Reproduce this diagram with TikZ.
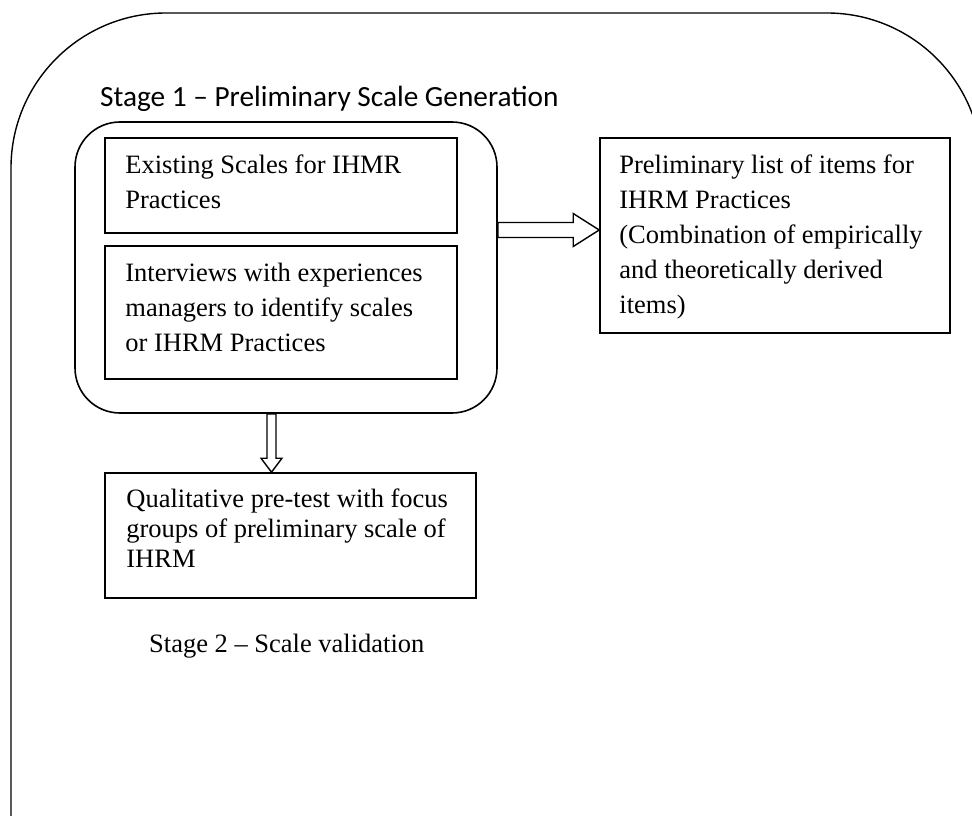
\documentclass[tikz,border=0pt]{standalone}
\usepackage{fontspec}
\setmainfont{Liberation Serif}
\newfontfamily\calfont{Carlito}
\usetikzlibrary{calc}
\newcommand\mlines[2]{\vtop{\baselineskip=#1\relax\lineskiplimit=-100pt #2}}
\begin{document}
\begin{tikzpicture}[x=1pt,y=-1pt,
  frame/.style={line width=1.4pt},
  plainbox/.style={draw, line width=1.6pt, inner sep=0pt},
  txt/.style={inner sep=0pt, anchor=base west, font=\fontsize{26.5}{31}\selectfont},
  barrow/.style={draw, line width=1.4pt, fill=white, line join=miter}
]
\useasboundingbox (0,0) rectangle (972,816);
\clip (0,0) rectangle (972,816);
% outer frame (cut by the page at right and bottom)
\draw[frame, rounded corners=155pt] (11,900) -- (11,13) -- (982,13) -- (982,900);

% stage 1 label
\node[inner sep=0pt, anchor=base west, font=\calfont\fontsize{29.3}{34}\selectfont] (s1) at (100,106.5) {Stage 1 – Preliminary Scale Generation};

% inner rounded container
\node[plainbox, rounded corners=45pt, minimum width=422pt, minimum height=291pt] (stg) at (286,267.5) {};
\node[plainbox, minimum width=352pt, minimum height=95pt] (b1) at (281,185.5) {};
\node[plainbox, minimum width=352pt, minimum height=133pt] (b2) at (281,312.5) {};
\node[plainbox, minimum width=350pt, minimum height=195pt] (pl) at (775,235.5) {};
\node[plainbox, minimum width=371pt, minimum height=125pt] (q) at (290.5,535.5) {};

% texts
\node[txt] (t1) at ([xshift=21pt,yshift=-36pt]b1.north west)
  {\mlines{35pt}{\hbox{Existing Scales for IHMR}\hbox{Practices}}};
\node[txt] (t2) at ([xshift=21pt,yshift=-36pt]b2.north west)
  {\mlines{35pt}{\hbox{Interviews with experiences}\hbox{managers to identify scales}\hbox{or IHRM Practices}}};
\node[txt] (tp) at ([xshift=20pt,yshift=-36pt]pl.north west)
  {\mlines{35pt}{\hbox{Preliminary list of items for}\hbox{IHRM Practices}\hbox{(Combination of empirically}\hbox{and theoretically derived}\hbox{items)}}};
\node[txt] (tq) at ([xshift=22pt,yshift=-35pt]q.north west)
  {\mlines{30pt}{\hbox{Qualitative pre-test with focus}\hbox{groups of preliminary scale of}\hbox{IHRM}}};

% stage 2 label
\node[txt] (s2) at (149,652) {Stage 2 – Scale validation};

% block arrow right
\coordinate (rt) at ([yshift=5.5pt]pl.west);
\coordinate (rs) at (stg.east |- rt);
\draw[barrow] ([yshift=7.5pt]rs) -- ([xshift=-26pt,yshift=7.5pt]rt) -- ([xshift=-26pt,yshift=16.5pt]rt) -- (rt)
  -- ([xshift=-26pt,yshift=-16.5pt]rt) -- ([xshift=-26pt,yshift=-7.5pt]rt) -- ([yshift=-7.5pt]rs) -- cycle;

% block arrow down
\coordinate (dt) at ([xshift=-19pt]q.north);
\coordinate (ds) at (stg.south -| dt);
\draw[barrow] ([xshift=-4.5pt]ds) -- ([xshift=-4.5pt,yshift=14pt]dt) -- ([xshift=-10.5pt,yshift=14pt]dt) -- (dt)
  -- ([xshift=10.5pt,yshift=14pt]dt) -- ([xshift=4.5pt,yshift=14pt]dt) -- ([xshift=4.5pt]ds) -- cycle;
\end{tikzpicture}
\end{document}
